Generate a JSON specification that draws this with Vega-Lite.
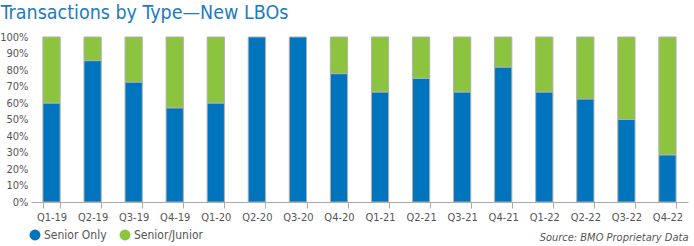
{
  "$schema": "https://vega.github.io/schema/vega-lite/v6.json",
  "width": 657,
  "height": 165,
  "autosize": {"type": "none"},
  "padding": {"left": 31, "top": 37, "right": 6, "bottom": 44},
  "background": "white",
  "title": {
    "text": "Transactions by Type\u2014New LBOs",
    "anchor": "start",
    "dx": 1,
    "offset": 8,
    "font": "DejaVu Sans Condensed",
    "fontSize": 19.5,
    "fontWeight": "normal",
    "color": "#1d7bc1"
  },
  "data": {
    "values": [
      {"q": "Q1-19", "type": "Senior Only", "share": 0.600},
      {"q": "Q1-19", "type": "Senior/Junior", "share": 0.400},
      {"q": "Q2-19", "type": "Senior Only", "share": 0.857},
      {"q": "Q2-19", "type": "Senior/Junior", "share": 0.143},
      {"q": "Q3-19", "type": "Senior Only", "share": 0.727},
      {"q": "Q3-19", "type": "Senior/Junior", "share": 0.273},
      {"q": "Q4-19", "type": "Senior Only", "share": 0.571},
      {"q": "Q4-19", "type": "Senior/Junior", "share": 0.429},
      {"q": "Q1-20", "type": "Senior Only", "share": 0.600},
      {"q": "Q1-20", "type": "Senior/Junior", "share": 0.400},
      {"q": "Q2-20", "type": "Senior Only", "share": 1.000},
      {"q": "Q3-20", "type": "Senior Only", "share": 1.000},
      {"q": "Q4-20", "type": "Senior Only", "share": 0.778},
      {"q": "Q4-20", "type": "Senior/Junior", "share": 0.222},
      {"q": "Q1-21", "type": "Senior Only", "share": 0.667},
      {"q": "Q1-21", "type": "Senior/Junior", "share": 0.333},
      {"q": "Q2-21", "type": "Senior Only", "share": 0.750},
      {"q": "Q2-21", "type": "Senior/Junior", "share": 0.250},
      {"q": "Q3-21", "type": "Senior Only", "share": 0.667},
      {"q": "Q3-21", "type": "Senior/Junior", "share": 0.333},
      {"q": "Q4-21", "type": "Senior Only", "share": 0.818},
      {"q": "Q4-21", "type": "Senior/Junior", "share": 0.182},
      {"q": "Q1-22", "type": "Senior Only", "share": 0.667},
      {"q": "Q1-22", "type": "Senior/Junior", "share": 0.333},
      {"q": "Q2-22", "type": "Senior Only", "share": 0.625},
      {"q": "Q2-22", "type": "Senior/Junior", "share": 0.375},
      {"q": "Q3-22", "type": "Senior Only", "share": 0.500},
      {"q": "Q3-22", "type": "Senior/Junior", "share": 0.500},
      {"q": "Q4-22", "type": "Senior Only", "share": 0.286},
      {"q": "Q4-22", "type": "Senior/Junior", "share": 0.714}
    ]
  },
  "mark": {"type": "bar", "stroke": "#b0b0b0", "strokeWidth": 1},
  "encoding": {
    "x": {
      "field": "q",
      "type": "nominal",
      "sort": null,
      "scale": {"paddingInner": 0.58, "paddingOuter": 0.29},
      "axis": {
        "title": "Source: BMO Proprietary Data",
        "titleAnchor": "end",
        "titleAlign": "right",
        "titleFont": "DejaVu Sans Condensed",
        "titleFontStyle": "italic",
        "titleFontWeight": "normal",
        "titleFontSize": 11,
        "titleColor": "#555555",
        "titlePadding": 9,
        "labelAngle": 0,
        "labelFont": "DejaVu Sans Condensed",
        "labelFontSize": 11,
        "labelColor": "#555555",
        "labelPadding": 3,
        "tickBand": "extent",
        "tickColor": "#aaaaaa",
        "tickSize": 6,
        "domainColor": "#aaaaaa"
      }
    },
    "y": {
      "field": "share",
      "type": "quantitative",
      "stack": "zero",
      "scale": {"domain": [0, 1]},
      "axis": {
        "title": null,
        "values": [0, 0.1, 0.2, 0.3, 0.4, 0.5, 0.6, 0.7, 0.8, 0.9, 1.0],
        "format": ".0%",
        "domain": false,
        "ticks": false,
        "grid": false,
        "labelFont": "DejaVu Sans Condensed",
        "labelFontSize": 11,
        "labelColor": "#555555",
        "labelPadding": 3
      }
    },
    "color": {
      "field": "type",
      "type": "nominal",
      "scale": {"domain": ["Senior Only", "Senior/Junior"], "range": ["#0075be", "#8cc43f"]},
      "legend": {
        "title": null,
        "orient": "none",
        "legendX": -2,
        "legendY": 192,
        "direction": "horizontal",
        "symbolType": "circle",
        "symbolSize": 120,
        "symbolStrokeWidth": 0,
        "labelFont": "DejaVu Sans Condensed",
        "labelFontSize": 12,
        "labelColor": "#555555",
        "columnPadding": 12,
        "labelOffset": 3
      }
    },
    "order": {"field": "type", "sort": "ascending"}
  },
  "config": {"view": {"stroke": null}, "title": {"baseline": "alphabetic"}}
}
